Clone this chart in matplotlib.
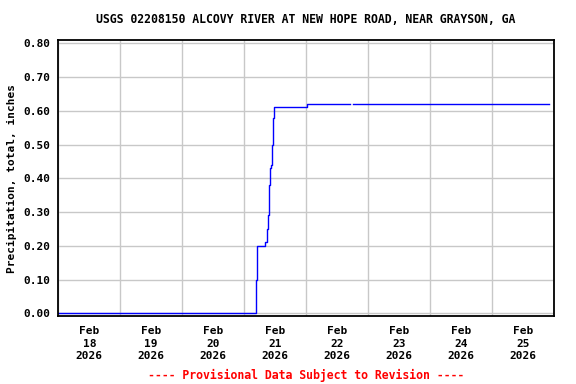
import matplotlib
matplotlib.use("Agg")
import matplotlib.pyplot as plt
import matplotlib.dates as mdates
import numpy as np
import pandas as pd

title = "USGS 02208150 ALCOVY RIVER AT NEW HOPE ROAD, NEAR GRAYSON, GA"
ylabel = "Precipitation, total, inches"
footer = "---- Provisional Data Subject to Revision ----"

# readings where the value changes (15-minute data), NaN = missing record
times = ["2026-02-18 00:00", "2026-02-21 04:45", "2026-02-21 05:00", "2026-02-21 08:00",
         "2026-02-21 08:45", "2026-02-21 09:15", "2026-02-21 09:30", "2026-02-21 09:45",
         "2026-02-21 10:00", "2026-02-21 10:15", "2026-02-21 10:45", "2026-02-21 11:00",
         "2026-02-21 11:15", "2026-02-21 11:30", "2026-02-22 00:15", "2026-02-22 17:00",
         "2026-02-22 18:15", "2026-02-25 22:00"]
values = [0.00, 0.10, 0.20, 0.21,
          0.25, 0.29, 0.30, 0.38,
          0.43, 0.44, 0.50, 0.54,
          0.58, 0.61, 0.62, np.nan,
          0.62, 0.62]

x_start = "2026-02-18"
x_end = "2026-02-26"
yticks = [0.00, 0.10, 0.20, 0.30, 0.40, 0.50, 0.60, 0.70, 0.80]

plt.rcParams['font.family'] = ['DejaVu Sans Mono']
plt.rcParams['font.weight'] = 'bold'
plt.rcParams['axes.titleweight'] = 'bold'
plt.rcParams['axes.labelweight'] = 'bold'
plt.rcParams['font.size'] = 8

fig = plt.figure(figsize=(5.76, 3.84), dpi=100)
ax = fig.add_axes([0.1012, 0.1771, 0.8606, 0.7187])

t = pd.to_datetime(times)
ax.plot(t, values, color='#0000ff', lw=1.0, drawstyle='steps-post')

ax.set_xlim(pd.Timestamp(x_start), pd.Timestamp(x_end))
ax.set_ylim(-0.008, 0.81)
ax.set_yticks(yticks)
ax.set_yticklabels(["%.2f" % v for v in yticks])

ax.xaxis.set_major_locator(mdates.DayLocator())
ax.xaxis.set_major_formatter(plt.NullFormatter())
ax.xaxis.set_minor_locator(mdates.HourLocator(byhour=12))
ax.xaxis.set_minor_formatter(mdates.DateFormatter("%b\n%d\n%Y"))
ax.tick_params(axis='x', which='both', length=0, pad=7)
ax.tick_params(axis='y', length=0, pad=6)
for lab in ax.get_xticklabels(minor=True):
    lab.set_linespacing(1.35)

ax.grid(True, which='major', color='#c8c8c8', lw=1.0)
ax.set_axisbelow(True)
for s in ax.spines.values():
    s.set_linewidth(1.3)
    s.set_color('black')

ax.set_ylabel(ylabel, labelpad=4)
ax.set_title(title, pad=12, fontsize=8.3)

fig.text(0.531, 0.023, footer, color='red', ha='center', va='center',
         fontweight='bold', fontsize=8.3)

fig.savefig("out.png", dpi=100)
